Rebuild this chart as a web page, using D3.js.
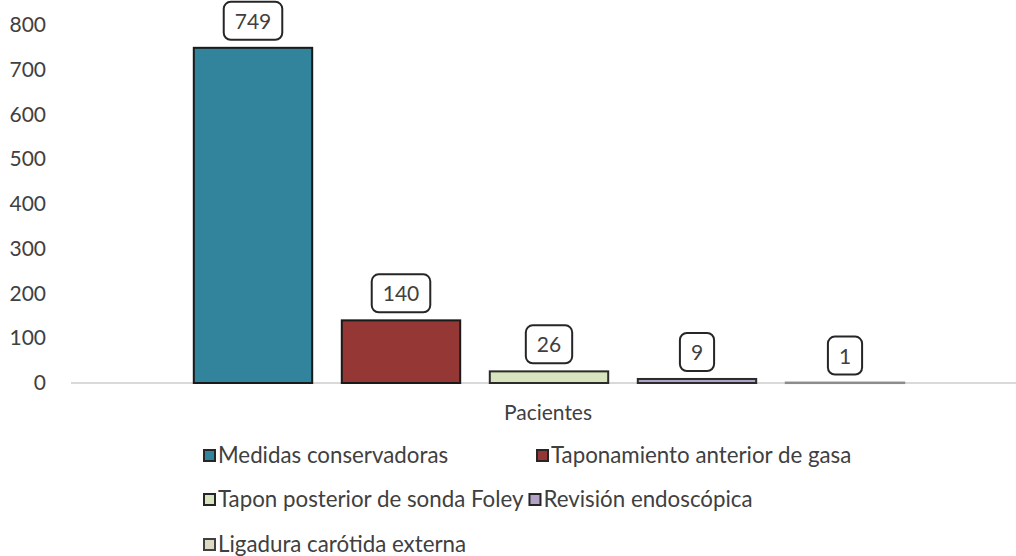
<!DOCTYPE html>
<html>
<head>
<meta charset="utf-8">
<script src="https://cdn.jsdelivr.net/npm/d3@7"></script>
<style>
  body { margin: 0; background: #fff; }
  text { font-family: Lato, "Open Sans", sans-serif; fill: #404040; }
</style>
</head>
<body>
<div id="chart"></div>
<script>
// data
const series = ["Medidas conservadoras", "Taponamiento anterior de gasa", "Tapon posterior de sonda Foley", "Revisión endoscópica", "Ligadura carótida externa"]
const values = [749, 140, 26, 9, 1]
const category = "Pacientes"
const yTicks = [0, 100, 200, 300, 400, 500, 600, 700, 800]

const fills = ["#31849b", "#953735", "#d7e4bd", "#b3a2c7", "#ddd9c3"]
const strokes = ["#1a1a1a", "#1a1a1a", "#2b2b2b", "#2b2b2b", "#8c8c8c"]

const width = 1016
const height = 556

const svg = d3.select("#chart").append("svg")
  .attr("width", width)
  .attr("height", height)

// scales
const y = d3.scaleLinear()
  .domain([0, 800])
  .range([383, 25])

const x = d3.scaleBand()
  .domain(series)
  .range([179, 919])
  .paddingInner(0.2)
  .paddingOuter(0.1)

// y axis labels, no line
const yAxis = svg.append("g")
  .attr("transform", "translate(46,0)")
  .call(d3.axisLeft(y).tickValues(yTicks).tickSize(0).tickPadding(0))
yAxis.select(".domain").remove()
yAxis.selectAll("text")
  .style("font-size", "21px")
  .style("font-family", "Lato, sans-serif")
  .attr("fill", "#404040")

// baseline
svg.append("line")
  .attr("x1", 71).attr("x2", width)
  .attr("y1", y(0)).attr("y2", y(0))
  .attr("stroke", "#d9d9d9")
  .attr("stroke-width", 2)

// bars
svg.append("g")
  .selectAll("rect")
  .data(values)
  .join("rect")
    .attr("x", (d, i) => x(series[i]))
    .attr("y", d => y(d))
    .attr("width", x.bandwidth())
    .attr("height", d => Math.max(0.5, y(0) - y(d)))
    .attr("fill", (d, i) => fills[i])
    .attr("stroke", (d, i) => strokes[i])
    .attr("stroke-width", 2)

// value labels in rounded boxes
const labels = svg.append("g")
  .selectAll("g")
  .data(values)
  .join("g")
    .attr("transform", (d, i) => `translate(${x(series[i]) + x.bandwidth() / 2},${y(d) - 6})`)

labels.append("text")
  .attr("text-anchor", "middle")
  .attr("y", -13)
  .style("font-size", "21px")
  .text(d => d)

labels.each(function () {
  const g = d3.select(this)
  const w = g.select("text").node().getComputedTextLength() + 22
  g.insert("rect", "text")
    .attr("x", -w / 2)
    .attr("y", -40)
    .attr("width", w)
    .attr("height", 38)
    .attr("rx", 7)
    .attr("fill", "#fff")
    .attr("stroke", "#262626")
    .attr("stroke-width", 2)
})

// category label
svg.append("text")
  .attr("x", 548)
  .attr("y", 420)
  .attr("text-anchor", "middle")
  .style("font-size", "21px")
  .text(category)

// legend
const legendPos = [
  {x: 203, y: 456}, {x: 536, y: 456},
  {x: 203, y: 500}, {x: 527, y: 500},
  {x: 203, y: 545}
]

const legend = svg.append("g")
  .selectAll("g")
  .data(series)
  .join("g")
    .attr("transform", (d, i) => `translate(${legendPos[i].x},${legendPos[i].y})`)

legend.append("rect")
  .attr("x", 1).attr("y", -6)
  .attr("width", 11).attr("height", 11)
  .attr("fill", (d, i) => fills[i])
  .attr("stroke", (d, i) => i === 4 ? "#404040" : "#262626")
  .attr("stroke-width", 2)

legend.append("text")
  .attr("x", 15)
  .attr("y", 7)
  .style("font-size", "22.3px")
  .text(d => d)

// keep second item of row 2 clear of the first one's text
const rowEnd = 203 + 15 + legend.filter((d, i) => i === 2).select("text").node().getComputedTextLength()
legend.filter((d, i) => i === 3)
  .attr("transform", `translate(${Math.max(527, rowEnd + 5)},500)`)
</script>
</body>
</html>
